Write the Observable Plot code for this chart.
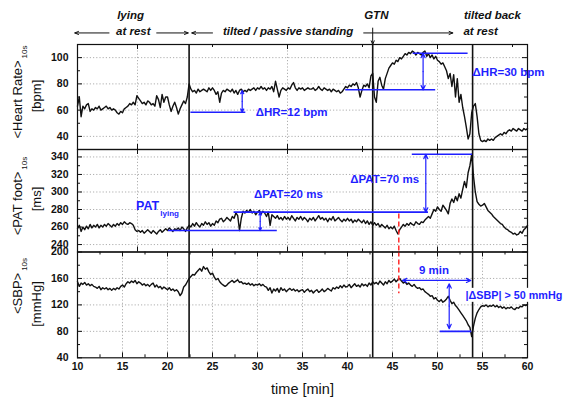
<!DOCTYPE html>
<html><head><meta charset="utf-8">
<script src="https://cdn.jsdelivr.net/npm/d3@7"></script>
<script src="https://cdn.jsdelivr.net/npm/@observablehq/plot@0.6"></script>
<style>
body{margin:0;background:#fff;}
#chart{position:relative;width:567px;height:400px;}
#chart svg{position:absolute;left:0;top:0;}
</style></head><body><div id="chart"></div>
<script>
const t0 = 10, dt = 0.2;
const hrVals = [
 63,70,55,63,61, 64,65,59,61,60, 62,61,63,60,61, 62,63,61,62,60, 61,60,58,57,59,
 58,61,62,63,65, 64,66,64,71,69, 67,65,66,64,67, 66,64,65,63,71, 68,62,72,66,70,
 70,64,59,63,66, 62,57,61,64,67, 65,70,80,76,74, 75,73,76,74,75, 76,75,74,77,75,
 77,75,72,74,66, 73,75,74,76,75, 74,76,73,75,72, 75,76,74,75,74, 76,75,76,77,75,
 77,76,78,76,77, 75,77,76,78,74, 82,76,70,75,77, 76,75,77,76,79, 81,77,75,77,76,
 77,75,76,77,76, 76,77,75,76,78, 76,75,77,76,75, 76,74,76,75,74, 75,73,74,76,78,
 77,79,78,80,79, 81,77,70,75,79, 78,80,77,86,88, 70,66,82,85,79, 76,84,88,92,94,
 96,95,98,97,100, 99,101,103,102,104, 103,105,104,102,104, 103,102,104,105,101, 103,100,102,99,101,
 98,97,95,96,93, 90,84,88,78,87, 70,84,66,72,62, 55,47,38,42,58, 63,65,55,42,37,
 36,37,36,38,37, 38,37,39,40,41, 42,41,43,42,44, 45,44,46,45,44, 46,45,44,46,45,
 46];
const patVals = [
 258,262,255,260,257, 261,258,263,259,262, 260,263,259,262,260, 263,261,264,262,260, 263,261,264,262,265,
 263,266,264,263,265, 264,262,257,255,256, 254,256,253,255,257, 255,253,256,254,252, 255,257,254,256,258,
 256,259,257,255,258, 257,259,256,260,258, 255,259,262,260,264, 261,265,262,260,264, 262,266,263,265,261,
 264,262,267,265,269, 270,266,268,271,269, 267,272,270,276,273, 256,270,278,276,279, 277,280,276,278,274,
 277,279,275,278,276, 272,277,262,274,272, 270,273,269,271,268, 272,269,271,268,273, 270,267,271,269,272,
 268,271,269,266,270, 268,271,267,270,273, 269,271,268,270,266, 270,268,272,267,269, 271,268,266,269,267,
 270,267,269,265,268, 266,269,267,265,268, 264,267,263,266,262, 265,262,264,260,263, 261,259,262,258,260,
 258,261,256,252,257, 260,263,261,264,262, 265,263,262,266,264, 263,266,265,268,270, 272,270,275,280,278,
 283,280,278,285,282, 279,275,287,292,288, 295,290,298,293,303, 312,305,322,330,343, 318,300,289,286,284,
 285,287,283,279,277, 275,272,270,268,266, 264,263,260,258,257, 255,254,252,253,251, 252,255,253,257,259,
 262];
const sbpVals = [
 155,148,153,151,154, 150,152,149,151,148, 147,145,148,143,146, 144,146,143,145,142, 145,143,146,144,148,
 150,147,152,155,153, 156,154,157,152,155, 153,150,152,149,151, 148,151,153,147,150, 146,148,144,147,145,
 143,146,142,144,141, 143,140,134,138,147, 150,155,160,163,166, 165,169,172,175,171, 178,174,176,170,166,
 168,162,158,160,155, 152,150,148,150,153, 155,157,154,156,158, 154,155,152,153,151, 153,150,152,149,151,
 150,152,149,151,148, 147,142,146,138,144, 141,145,139,146,142, 144,140,143,145,142, 144,141,143,140,142,
 143,139,142,144,140, 142,138,141,143,139, 141,144,140,142,145, 143,141,146,144,147, 145,149,146,150,147,
 148,151,146,149,152, 148,150,147,152,149, 151,148,153,150,155, 152,154,151,156,153, 150,155,152,157,154,
 156,159,155,158,160, 156,153,155,151,153, 150,148,151,147,145, 146,143,144,140,138, 136,133,134,129,131,
 127,125,128,124,126, 129,133,127,122,124, 119,116,112,108,104, 100,96,90,86,72, 88,100,108,113,117,
 119,118,120,117,119, 118,120,117,119,116, 118,115,117,114,116, 115,117,114,113,116, 115,118,117,120,119,
 121];

const eventTimes = [22.4, 42.8, 53.9];   // tilt, GTN, tilt back (min)
const redMark = 45.7;                     // red dashed marker (min)

const xTicks = [10,15,20,25,30,35,40,45,50,55,60];
const xMinor = [12.5,17.5,22.5,27.5,32.5,37.5,42.5,47.5,52.5,57.5];
const xGrid = [15,20,25,30,35,40,45,50,55];
const secGrid = [1000,2000,3000];         // upper panels: time grid in seconds
const secMinor = [1500,2500,3500];

const hrTicks = [40,60,80,100], hrMinor = [50,70,90];
const patTicks = [240,260,280,300,320,340], patMinor = [250,270,290,310,330];
const sbpTicks = [40,80,120,160,200], sbpMinor = [60,100,140,180], sbpGrid = [80,120,160];

// annotations (data units)
const topTexts = [
  {x:15.9, y:132, text:"lying"}, {x:16.2, y:120, text:"at rest"},
  {x:33.4, y:120, text:"tilted / passive standing"},
  {x:43.2, y:132, text:"GTN"},
  {x:56.1, y:132, text:"tilted back"}, {x:54.8, y:120, text:"at rest"}];
const topArrows = [
  {x1:13.5, x2:9.7, y:118.8}, {x1:18.8, x2:22.3, y:118.8},
  {x1:25.0, x2:22.7, y:118.8}, {x1:41.8, x2:51.7, y:118.8}];
const gtnArrow = [{x:42.8, y1:122.5, y2:110}];

const hrLines = [{x1:22.6,x2:28.7,y:58.4},{x1:39.8,x2:49.8,y:75.5},{x1:47.3,x2:53.4,y:103.3}];
const hrArrows = [{x:28.3,y1:58.4,y2:75},{x:48.4,y1:75.5,y2:103.3}];
const hrLabels = [{x:29.8,y:58.4,text:"ΔHR=12 bpm"},{x:53.9,y:88.9,text:"ΔHR=30 bpm"}];

const patLines = [{x1:20.1,x2:32.2,y:256},{x1:27.4,x2:49.0,y:277},{x1:47.2,x2:53.9,y:343}];
const patArrows = [{x:30.3,y1:256,y2:277},{x:48.7,y1:277,y2:343}];
const patLabels = [{x:29.6,y:297.5,text:"ΔPAT=20 ms"},{x:40.3,y:314.6,text:"ΔPAT=70 ms"}];
const patLying = [{x:16.5,y:284.5,text:"PAT"}];
const patLyingSub = [{x:19.2,y:275.5,text:"lying"}];

const sbpLines = [{x1:50.3,x2:53.8,y:80}];
const sbpVArrows = [{x:51.3,y1:152,y2:84}];
const sbpHArrows = [{y:157,x1:46.1,x2:53.7}];
const sbpLabels = [{x:49.6,y:172.3,text:"9 min"}];
const sbpBoxLabel = [{x:53.1,y:134.4,text:"|ΔSBP| > 50 mmHg"}];

// ---------- layout ----------
const W = 567, H = 400, ML = 77, MR = 40;
const INK = "#111", GRID = "#9a9a9a", BLUE = "#1f1fff", RED = "#ff2a2a";
const FONT = "'Liberation Sans', Arial, Helvetica, sans-serif";
const times = hrVals.map((_, i) => +(t0 + i * dt).toFixed(1));
const rows = vals => vals.map((v, i) => ({t: times[i], v}));

const P = {
  hr:  {top:44,    bottom:149,   domain:[30,110]},
  pat: {top:149,   bottom:251.5, domain:[231.5,348.5]},
  sbp: {top:251.5, bottom:357.3, domain:[40,200]}
};

function frameMarks(p, yMajor, yMinor, yGrid, xMaj, xMin, xGr) {
  const kx = 50 / (W - ML - MR);
  const [y0, y1] = p.domain;
  const ky = (y1 - y0) / (p.bottom - p.top);
  const g = {stroke: GRID, strokeWidth: 0.8, strokeDasharray: "1.2,2"};
  const k = {stroke: INK, strokeWidth: 1};
  return [
    Plot.ruleY(yGrid, g),
    Plot.ruleX(xGr, g),
    Plot.ruleY(yMajor, {x1: 10, x2: 10 + 5 * kx, ...k}),
    Plot.ruleY(yMajor, {x1: 60 - 5 * kx, x2: 60, ...k}),
    Plot.ruleY(yMinor, {x1: 10, x2: 10 + 3 * kx, ...k}),
    Plot.ruleY(yMinor, {x1: 60 - 3 * kx, x2: 60, ...k}),
    Plot.ruleX(xMaj, {y1: y0, y2: y0 + 5 * ky, ...k}),
    Plot.ruleX(xMaj, {y1: y1 - 5 * ky, y2: y1, ...k}),
    Plot.ruleX(xMin, {y1: y0, y2: y0 + 3 * ky, ...k}),
    Plot.ruleX(xMin, {y1: y1 - 3 * ky, y2: y1, ...k}),
    Plot.ruleX(eventTimes, {stroke: INK, strokeWidth: 1.6})
  ];
}

function dblV(list, opts) {
  return [
    Plot.arrow(list, {x: "x", y1: d => (d.y1 + d.y2) / 2, y2: "y1", ...opts}),
    Plot.arrow(list, {x: "x", y1: d => (d.y1 + d.y2) / 2, y2: "y2", ...opts})
  ];
}
function dblH(list, opts) {
  return [
    Plot.arrow(list, {y: "y", x1: d => (d.x1 + d.x2) / 2, x2: "x1", ...opts}),
    Plot.arrow(list, {y: "y", x1: d => (d.x1 + d.x2) / 2, x2: "x2", ...opts})
  ];
}
const aOpt = {stroke: BLUE, strokeWidth: 1.2, headLength: 6, headAngle: 50};
const bText = {fill: BLUE, fontWeight: "bold", fontSize: 11.5, textAnchor: "start"};
const blueRule = list => Plot.ruleY(list, {y: "y", x1: "x1", x2: "x2", stroke: BLUE, strokeWidth: 1.6});

function plot(p, marks, xAxis) {
  return Plot.plot({
    width: W, height: H, marginLeft: ML, marginRight: MR,
    marginTop: p.top, marginBottom: H - p.bottom,
    x: {domain: [10, 60], ...(xAxis ? {} : {axis: null}), label: null},
    y: {domain: p.domain, label: null},
    style: {background: "transparent", fontFamily: FONT, fontSize: "10.5px", overflow: "visible", maxWidth: "none"},
    marks
  });
}

const sec = s => s / 60;
const axY = ticks => Plot.axisY(ticks, {tickSize: 0, tickPadding: 9, fontWeight: "bold", fontSize: 10.5, label: null, fill: INK});

const hrPlot = plot(P.hr, [
  ...frameMarks(P.hr, hrTicks, hrMinor, hrTicks, secGrid.map(sec), secMinor.map(sec), secGrid.map(sec)),
  Plot.line(rows(hrVals), {x: "t", y: "v", stroke: INK, strokeWidth: 1.4}),
  Plot.frame({stroke: INK, strokeWidth: 1.2}),
  axY(hrTicks),
  blueRule(hrLines),
  ...dblV(hrArrows, aOpt),
  Plot.text(hrLabels, {x: "x", y: "y", text: "text", ...bText}),
  // header annotations
  Plot.text(topTexts, {x: "x", y: "y", text: "text", fontStyle: "italic", fontWeight: "bold", fontSize: 11.5, fill: INK}),
  Plot.arrow(topArrows, {x1: "x1", x2: "x2", y: "y", stroke: INK, strokeWidth: 1, headLength: 6, headAngle: 45}),
  Plot.arrow(gtnArrow, {x: "x", y1: "y1", y2: "y2", stroke: INK, strokeWidth: 1, headLength: 6, headAngle: 45})
]);

const patPlot = plot(P.pat, [
  ...frameMarks(P.pat, patTicks, patMinor, patTicks, secGrid.map(sec), secMinor.map(sec), secGrid.map(sec)),
  Plot.line(rows(patVals), {x: "t", y: "v", stroke: INK, strokeWidth: 1.4}),
  Plot.ruleX([redMark], {y1: 275, y2: P.pat.domain[0], stroke: RED, strokeWidth: 1.5, strokeDasharray: "5,3"}),
  Plot.frame({stroke: INK, strokeWidth: 1.2}),
  axY(patTicks),
  blueRule(patLines),
  ...dblV(patArrows, aOpt),
  Plot.text(patLabels, {x: "x", y: "y", text: "text", ...bText}),
  Plot.text(patLying, {x: "x", y: "y", text: "text", ...bText, fontSize: 12.5}),
  Plot.text(patLyingSub, {x: "x", y: "y", text: "text", ...bText, fontSize: 8})
]);

const sbpPlot = plot(P.sbp, [
  ...frameMarks(P.sbp, sbpTicks, sbpMinor, sbpGrid, xTicks, xMinor, xGrid),
  Plot.line(rows(sbpVals), {x: "t", y: "v", stroke: INK, strokeWidth: 1.4}),
  Plot.ruleX([redMark], {y1: P.sbp.domain[1], y2: 137, stroke: RED, strokeWidth: 1.5, strokeDasharray: "5,3"}),
  Plot.frame({stroke: INK, strokeWidth: 1.2}),
  axY(sbpTicks),
  Plot.axisX(xTicks, {tickSize: 0, tickPadding: 5, fontWeight: "bold", fontSize: 10.5, label: null, fill: INK}),
  Plot.text(["time [min]"], {text: d => d, frameAnchor: "bottom", dy: 36, fontSize: 14.5, fill: INK}),
  blueRule(sbpLines),
  ...dblV(sbpVArrows, aOpt),
  ...dblH(sbpHArrows, aOpt),
  Plot.text(sbpLabels, {x: "x", y: "y", text: "text", ...bText, textAnchor: "middle"}),
  Plot.text(sbpBoxLabel, {x: "x", y: "y", text: "text", ...bText, fontSize: 10.8})
], true);

const root = document.getElementById("chart");
root.append(hrPlot, patPlot, sbpPlot);

// white box behind the |ΔSBP| label
d3.select(sbpPlot).selectAll("text").filter(function() { return this.textContent.includes("ΔSBP"); }).each(function() {
  const b = this.getBBox();
  const r = document.createElementNS("http://www.w3.org/2000/svg", "rect");
  r.setAttribute("x", b.x - 2); r.setAttribute("y", b.y - 1);
  r.setAttribute("width", b.width + 4); r.setAttribute("height", b.height + 2);
  r.setAttribute("fill", "white");
  const tr = this.getAttribute("transform"); if (tr) r.setAttribute("transform", tr);
  this.parentNode.insertBefore(r, this);
});

// rotated y-axis titles with subscripts
const titles = [
  {main: "<Heart Rate>", sub: "10s", unit: "[bpm]",  cy: 92,  cu: 96},
  {main: "<PAT foot>",   sub: "10s", unit: "[ms]",   cy: 196, cu: 199},
  {main: "<SBP>",        sub: "10s", unit: "[mmHg]", cy: 286, cu: 304}
];
const tg = d3.select(hrPlot).append("g").attr("font-family", FONT).attr("fill", INK);
titles.forEach(t => {
  const a = tg.append("text").attr("transform", `translate(22,${t.cy}) rotate(-90)`)
    .attr("text-anchor", "middle").attr("font-size", 13);
  a.append("tspan").text(t.main);
  a.append("tspan").attr("font-size", 8).attr("dy", 5).attr("dx", 2).text(t.sub);
  tg.append("text").attr("transform", `translate(41,${t.cu}) rotate(-90)`)
    .attr("text-anchor", "middle").attr("font-size", 13).text(t.unit);
});
</script></body></html>
